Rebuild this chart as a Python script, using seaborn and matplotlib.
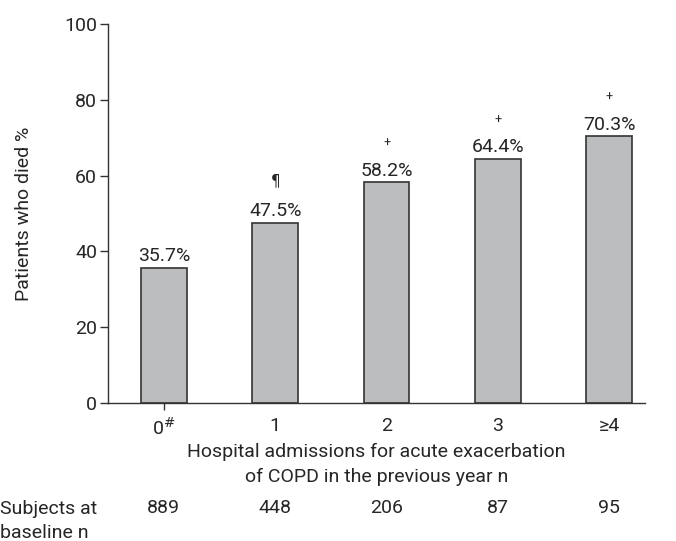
import matplotlib
matplotlib.use("Agg")
import matplotlib.pyplot as plt
import seaborn as sns
import pandas as pd

categories = ["0", "1", "2", "3", "≥4"]
tick_labels = ["0$^{\\#}$", "1", "2", "3", "≥4"]
died_pct = [35.7, 47.5, 58.2, 64.4, 70.3]
markers = ["", "¶", "+", "+", "+"]
subjects = [889, 448, 206, 87, 95]

sns.set_style("ticks")
plt.rcParams["font.family"] = ["Roboto", "DejaVu Sans"]
plt.rcParams["mathtext.fontset"] = "dejavusans"

FS = 14

df = pd.DataFrame({"adm": categories, "pct": died_pct})

fig = plt.figure(figsize=(6.76, 5.41), dpi=100)
ax = fig.add_axes([0.160, 0.255, 0.794, 0.701])

sns.barplot(data=df, x="adm", y="pct", order=categories, color="#bcbdbf",
            edgecolor="#333333", linewidth=1.2, width=0.41, saturation=1, ax=ax)

ax.set_ylim(0, 100)
ax.set_xlim(-0.5, 4.32)
ax.set_yticks([0, 20, 40, 60, 80, 100])
ax.tick_params(axis="y", labelsize=FS, length=6, width=1, color="#333333", pad=2)
ax.set_xticks(range(len(categories)))
ax.set_xticklabels(tick_labels, fontsize=FS)
ax.tick_params(axis="x", length=5, width=1, color="#333333", pad=5)
for i, t in enumerate(ax.xaxis.get_major_ticks()):
    if i > 0:
        t.tick1line.set_visible(False)
for s in ["top", "right"]:
    ax.spines[s].set_visible(False)
for s in ["left", "bottom"]:
    ax.spines[s].set_color("#333333")
    ax.spines[s].set_linewidth(1)

ax.set_ylabel("Patients who died %", fontsize=FS, labelpad=22)
ax.set_xlabel("Hospital admissions for acute exacerbation\nof COPD in the previous year n",
              fontsize=FS, labelpad=3, linespacing=1.45)

for i, (v, m) in enumerate(zip(died_pct, markers)):
    ax.annotate(f"{v}%", (i, v), xytext=(0, 2), textcoords="offset points",
                ha="center", va="bottom", fontsize=FS)
    if m == "+":
        ax.annotate(m, (i, v), xytext=(0, 28), textcoords="offset points",
                    ha="center", va="center", fontsize=9)
    elif m:
        ax.annotate(m, (i, v), xytext=(0, 30), textcoords="offset points",
                    ha="center", va="center", fontsize=11, family="DejaVu Sans")

trans = ax.get_xaxis_transform()
for i, n in enumerate(subjects):
    ax.text(i, -0.277, str(n), transform=trans, ha="center", va="center", fontsize=FS)
fig.text(0.0, 0.037, "Subjects at\nbaseline n", ha="left", va="center", fontsize=FS,
         linespacing=1.45)

fig.savefig("out.png", dpi=100)
